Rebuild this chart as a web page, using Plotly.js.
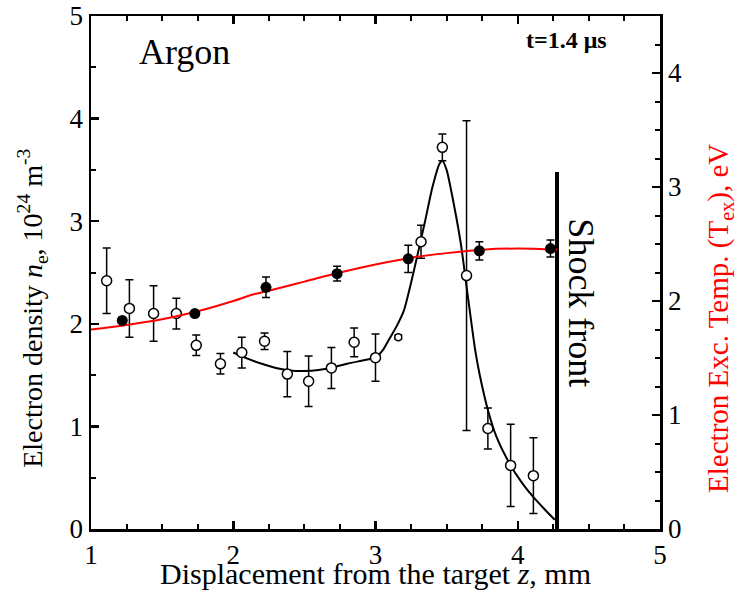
<!DOCTYPE html>
<html>
<head>
<meta charset="utf-8">
<script src="https://cdn.plot.ly/plotly-3.0.1.min.js"></script>
<style>html,body{margin:0;padding:0;background:#fff;}#chart{width:740px;height:591px;}</style>
</head>
<body>
<div id="chart"></div>
<script>
// Electron density (open circles), 10^24 m^-3
const neX   = [1.11, 1.27, 1.44, 1.60, 1.74, 1.91, 2.06, 2.22, 2.38, 2.53, 2.69, 2.85, 3.00, 3.16, 3.32, 3.47, 3.64, 3.79, 3.95, 4.11];
const neY   = [2.42, 2.15, 2.10, 2.10, 1.79, 1.61, 1.72, 1.83, 1.51, 1.44, 1.57, 1.82, 1.67, 1.87, 2.80, 3.72, 2.47, 0.98, 0.62, 0.52];
const neErr = [0.32, 0.28, 0.27, 0.15, 0.10, 0.10, 0.15, 0.08, 0.22, 0.245, 0.20, 0.14, 0.23, 0.02, 0.16, 0.13, 1.51, 0.20, 0.40, 0.37];
const neSize = [10, 10, 10, 10, 10, 10, 10, 10, 10, 10, 10, 10, 10, 7, 10, 10, 10, 10, 10, 10];

// Electron density fit curve
const neFitX = [2.0, 2.1, 2.2, 2.3, 2.4, 2.5, 2.6, 2.7, 2.8, 2.9, 3.0, 3.05, 3.1, 3.15, 3.2, 3.25, 3.3, 3.35, 3.4, 3.45, 3.47, 3.5, 3.55, 3.6, 3.65, 3.7, 3.73, 3.79, 3.85, 3.95, 4.03, 4.11, 4.19, 4.26];
const neFitY = [1.72, 1.66, 1.61, 1.57, 1.545, 1.54, 1.55, 1.575, 1.61, 1.64, 1.67, 1.74, 1.86, 1.98, 2.13, 2.40, 2.70, 3.01, 3.33, 3.56, 3.59, 3.50, 3.17, 2.78, 2.26, 1.75, 1.52, 1.16, 0.90, 0.62, 0.45, 0.31, 0.19, 0.09];

// Electron excitation temperature (filled circles), eV
const texX   = [1.22, 1.73, 2.23, 2.73, 3.23, 3.73, 4.23];
const texY   = [1.83, 1.89, 2.12, 2.24, 2.37, 2.44, 2.46];
const texErr = [0, 0, 0.09, 0.065, 0.12, 0.08, 0.075];

// Excitation temperature fit curve
const texFitX = [1.0, 1.25, 1.5, 1.75, 2.0, 2.12, 2.25, 2.5, 2.75, 3.0, 3.25, 3.5, 3.75, 4.0, 4.276];
const texFitY = [1.75, 1.79, 1.84, 1.91, 2.00, 2.05, 2.09, 2.17, 2.25, 2.32, 2.38, 2.42, 2.45, 2.46, 2.45];

// Shock front marker line
const shockX = [4.276, 4.276];
const shockY = [0, 3.48];

const FONT = '"Liberation Serif", "Times New Roman", serif';

const traces = [
  {x: texFitX, y: texFitY, yaxis: 'y2', mode: 'lines', line: {color: '#ff0000', width: 2, shape: 'spline'}, hoverinfo: 'skip'},
  {x: neFitX, y: neFitY, mode: 'lines', line: {color: '#000', width: 2, shape: 'spline', smoothing: 0.6}, hoverinfo: 'skip'},
  // error bars for density
  {x: neX, y: neY, mode: 'markers',
   error_y: {type: 'data', array: neErr, visible: true, color: '#000', thickness: 1.5, width: 4},
   marker: {size: 1, color: 'rgba(0,0,0,0)'}},
  // error bars for temperature
  {x: texX, y: texY, yaxis: 'y2', mode: 'markers',
   error_y: {type: 'data', array: texErr, visible: true, color: '#000', thickness: 1.5, width: 4},
   marker: {size: 1, color: 'rgba(0,0,0,0)'}},
  // markers on top
  {x: neX, y: neY, mode: 'markers',
   marker: {symbol: 'circle', size: neSize, color: '#ffffff', opacity: 1, line: {color: '#000', width: 1.5}}},
  {x: texX, y: texY, yaxis: 'y2', mode: 'markers',
   marker: {symbol: 'circle', size: 11, color: '#000'}},
  {x: shockX, y: shockY, mode: 'lines', line: {color: '#000', width: 4}, hoverinfo: 'skip'}
];

const layout = {
  width: 740, height: 591,
  margin: {l: 91, r: 80, t: 16, b: 62},
  paper_bgcolor: '#fff', plot_bgcolor: '#fff',
  showlegend: false,
  font: {family: FONT, color: '#000'},
  xaxis: {
    range: [1, 5], dtick: 1, tick0: 1,
    showgrid: false, zeroline: false,
    showline: true, linecolor: '#000', linewidth: 2.5, mirror: 'ticks',
    ticks: 'inside', ticklen: 8, tickwidth: 2.5, tickcolor: '#000',
    minor: {dtick: 0.25, ticks: 'inside', ticklen: 5, tickwidth: 2, tickcolor: '#000'},
    tickfont: {family: FONT, size: 27, color: '#000'}
  },
  yaxis: {
    range: [0, 5], dtick: 1,
    showgrid: false, zeroline: false,
    showline: true, linecolor: '#000', linewidth: 2.5,
    ticks: 'inside', ticklen: 8, tickwidth: 2.5, tickcolor: '#000',
    minor: {dtick: 0.5, ticks: 'inside', ticklen: 5, tickwidth: 2, tickcolor: '#000'},
    tickfont: {family: FONT, size: 27, color: '#000'}
  },
  yaxis2: {
    range: [0, 4.5], dtick: 1, overlaying: 'y', side: 'right',
    showgrid: false, zeroline: false,
    showline: true, linecolor: '#000', linewidth: 2.5,
    ticks: 'inside', ticklen: 8, tickwidth: 2.5, tickcolor: '#000',
    minor: {dtick: 0.25, ticks: 'inside', ticklen: 5, tickwidth: 2, tickcolor: '#000'},
    tickfont: {family: FONT, size: 27, color: '#000'}
  },
  annotations: [
    {xref: 'paper', yref: 'paper', x: 0.5, y: -0.086, xanchor: 'center', yanchor: 'middle', showarrow: false,
     text: 'Displacement from the target <i>z</i>, mm', font: {family: FONT, size: 30, color: '#000'}},
    {xref: 'paper', yref: 'paper', x: -0.102, y: 0.431, xanchor: 'center', yanchor: 'middle', showarrow: false, textangle: -90,
     text: 'Electron density <i>n</i><sub>e</sub>, 10<sup>24</sup> m<sup>-3</sup>', font: {family: FONT, size: 28, color: '#000'}},
    {xref: 'paper', yref: 'paper', x: 1.105, y: 0.411, xanchor: 'center', yanchor: 'middle', showarrow: false, textangle: -90,
     text: 'Electron Exc. Temp. (T<sub>ex</sub>), eV', font: {family: FONT, size: 29, color: '#ff0000'}},
    {xref: 'paper', yref: 'paper', x: 0.081, y: 0.93, xanchor: 'left', yanchor: 'middle', showarrow: false,
     text: 'Argon', font: {family: FONT, size: 36, color: '#000'}},
    {xref: 'paper', yref: 'paper', x: 0.761, y: 0.953, xanchor: 'left', yanchor: 'middle', showarrow: false,
     text: '<b>t=1.4 μs</b>', font: {family: FONT, size: 24, color: '#000'}},
    {xref: 'paper', yref: 'paper', x: 0.861, y: 0.44, xanchor: 'center', yanchor: 'middle', showarrow: false, textangle: 90,
     text: 'Shock front', font: {family: FONT, size: 36, color: '#000'}}
  ]
};

Plotly.newPlot('chart', traces, layout, {displayModeBar: false, staticPlot: true});
</script>
</body>
</html>
